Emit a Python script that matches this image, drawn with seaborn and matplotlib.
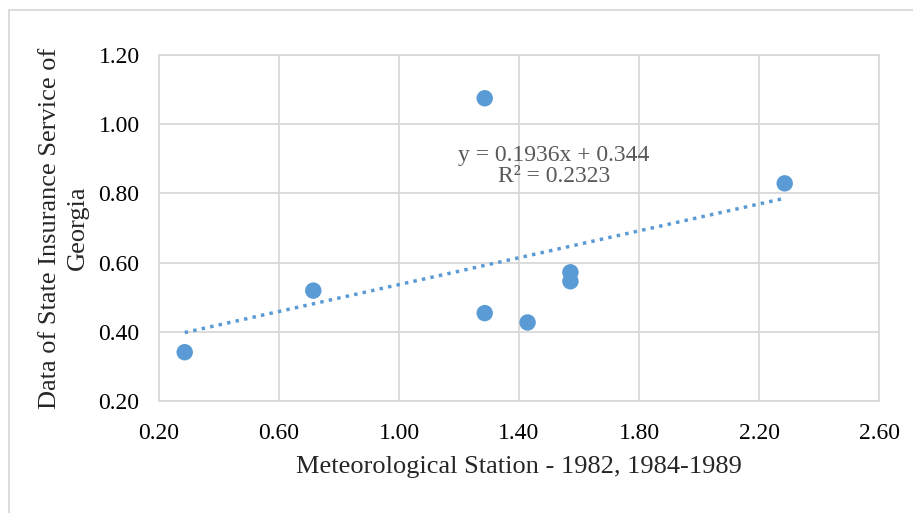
import numpy as np
import pandas as pd
import matplotlib
matplotlib.use("Agg")
import matplotlib.pyplot as plt
import seaborn as sns

# station data (x) vs insurance service data (y)
meteo_station = [0.2857, 0.7143, 1.2857, 1.2857, 1.4286, 1.5714, 1.5714, 2.2857]
insurance_data = [0.341, 0.519, 0.454, 1.075, 0.427, 0.572, 0.546, 0.829]

x_ticks = [0.20, 0.60, 1.00, 1.40, 1.80, 2.20, 2.60]
y_ticks = [0.20, 0.40, 0.60, 0.80, 1.00, 1.20]

x_title = "Meteorological Station - 1982, 1984-1989"
y_title = "Data of State Insurance Service of\nGeorgia"
trend_label = "y = 0.1936x + 0.344\nR² = 0.2323"

df = pd.DataFrame({"x": meteo_station, "y": insurance_data})

sns.set_theme(style="white")
plt.rcParams['font.family'] = ['Liberation Serif', 'DejaVu Serif']

blue = "#5B9BD5"
grid_c = "#D9D9D9"

fig = plt.figure(figsize=(9.13, 5.13), dpi=100)
ax = fig.add_axes([159 / 913, 1 - 401 / 513, 720 / 913, 346 / 513])

sns.scatterplot(data=df, x="x", y="y", ax=ax, color=blue, s=140,
                edgecolor="none", zorder=3)

# linear trendline (Excel style, dotted)
sns.regplot(data=df, x="x", y="y", ax=ax, scatter=False, ci=None,
            truncate=True, color=blue,
            line_kws={"linestyle": (0, (1, 1.5)), "linewidth": 2.5, "zorder": 2})

ax.set_xlim(0.2, 2.6)
ax.set_ylim(0.2, 1.2)
ax.set_xticks(x_ticks)
ax.set_yticks(y_ticks)
ax.set_xticklabels([f"{v:.2f}" for v in x_ticks])
ax.set_yticklabels([f"{v:.2f}" for v in y_ticks])
ax.tick_params(axis="both", length=0, labelsize=17, colors="black")
ax.tick_params(axis="x", pad=16)
ax.tick_params(axis="y", pad=14)
ax.grid(True, color=grid_c, linewidth=1.3)
ax.set_axisbelow(True)
for s in ax.spines.values():
    s.set_color(grid_c)
    s.set_linewidth(1.3)

ax.set_xlabel(x_title, fontsize=19)
ax.set_ylabel(y_title, fontsize=19, linespacing=1.35)
ax.xaxis.set_label_coords(0.5, -(456 - 401) / 346)
ax.yaxis.set_label_coords(-(159 - 89) / 720, 0.5)

ax.text(1.517, 0.88, trend_label,
        ha="center", va="center", fontsize=17, color="#595959",
        linespacing=0.98)

# chart border (Excel chart area)
fig.add_artist(plt.Line2D([9 / 913, 9 / 913], [0, 1 - 10 / 513],
                          transform=fig.transFigure, color=grid_c, lw=1.3))
fig.add_artist(plt.Line2D([9 / 913, 1], [1 - 10 / 513, 1 - 10 / 513],
                          transform=fig.transFigure, color=grid_c, lw=1.3))

fig.savefig("out.png", dpi=100)
